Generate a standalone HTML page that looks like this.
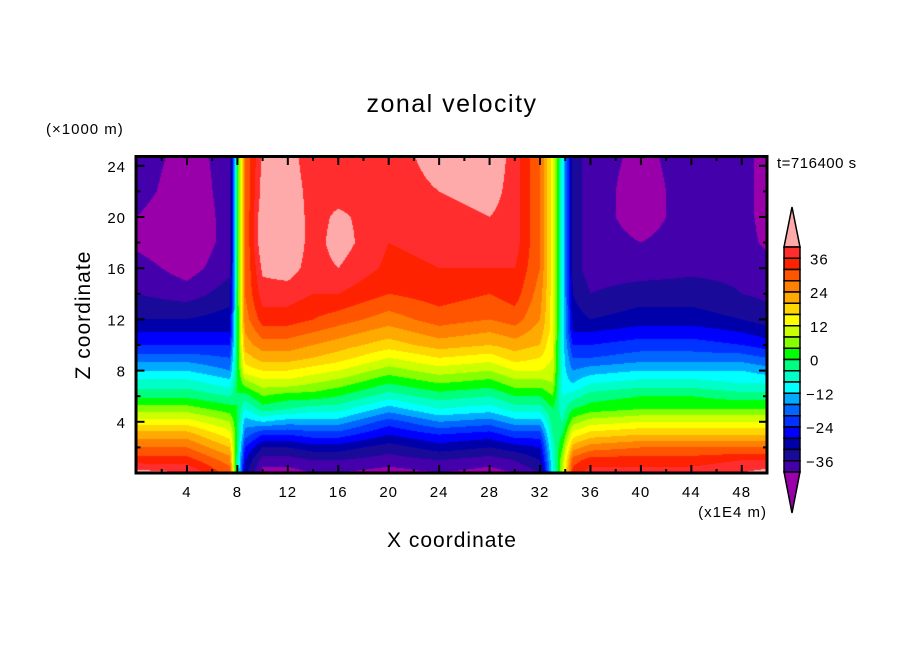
<!DOCTYPE html>
<html><head><meta charset="utf-8"><style>
html,body{margin:0;padding:0;background:#fff;width:904px;height:654px;overflow:hidden}
#wrap{position:relative;width:904px;height:654px}
canvas{position:absolute;left:136px;top:157px}
svg{position:absolute;left:0;top:0}
text{font-family:"Liberation Sans","DejaVu Sans",sans-serif;fill:#000}
</style></head><body>
<div id="wrap">
<canvas id="field" width="631" height="316"></canvas>
<svg id="ov" width="904" height="654">
<text x="452" y="112" font-size="25" text-anchor="middle" letter-spacing="1.5">zonal velocity</text>
<text x="46" y="134" font-size="15" letter-spacing="1">(×1000 m)</text>
<text x="777" y="168" font-size="15" letter-spacing="0.5">t=716400 s</text>
<text x="452" y="547" font-size="21" text-anchor="middle" letter-spacing="1">X coordinate</text>
<text x="0" y="0" font-size="21" text-anchor="middle" letter-spacing="1" transform="translate(90,315) rotate(-90)">Z coordinate</text>
<text x="767" y="517" font-size="15" text-anchor="end" letter-spacing="1">(x1E4 m)</text>
<g id="axes"></g>
<g id="cbar"></g>
</svg>
</div>
<script>
// grid data: x positions (x1E4 m), z levels (km), and profile columns (m/s)
const xCols = [0, 4, 7.4, 8.0, 8.6, 10, 12, 14, 16, 20, 24, 28, 30, 32, 33.0, 33.8, 34.6, 36, 40, 44, 48, 50];
const zRows = [0, 1, 2, 3, 4, 5, 6, 7, 8, 9, 10, 11, 12, 14, 16, 18, 20, 22, 25];
const col00 = [42, 34, 28, 22, 14, 6, -1, -6, -12, -18, -24, -28, -32, -36, -38, -41, -40, -38, -37];
const col04 = [40, 34, 28, 22, 14, 6, -1, -6, -12, -18, -24, -28, -32, -38, -42, -44, -44, -43, -42];
const col07 = [30, 26, 20, 14, 8, 2, -4, -10, -16, -20, -24, -28, -30, -34, -37, -38, -38, -38, -38];
const col08 = [-6, -4, -2, 0, 0, 0, 0, 0, 0, 0, 0, 0, 0, 0, 0, 0, 0, 0, 0];
const col09 = [-30, -28, -24, -18, -14, -8, -2, 6, 14, 18, 22, 24, 26, 28, 28, 28, 28, 28, 28];
const col10 = [-42, -38, -32, -24, -12, -2, 4, 10, 16, 22, 26, 30, 34, 38, 41, 44, 44, 42, 41];
const col12 = [-42, -38, -32, -24, -14, -4, 2, 10, 16, 22, 26, 30, 34, 38, 42, 44, 44, 43, 42];
const col14 = [-40, -36, -30, -22, -14, -6, 2, 8, 14, 20, 24, 28, 32, 36, 38, 38, 38, 38, 37];
const col16 = [-40, -36, -30, -22, -14, -6, 0, 6, 12, 18, 22, 26, 30, 36, 40, 42, 41, 38, 38];
const col20 = [-42, -38, -34, -28, -22, -14, -6, 0, 6, 12, 18, 22, 26, 32, 35, 36, 37, 38, 38];
const col24 = [-40, -36, -30, -24, -16, -8, -2, 4, 10, 16, 22, 26, 30, 34, 36, 37, 38, 40, 42];
const col28 = [-42, -38, -32, -26, -18, -10, -4, 2, 8, 14, 20, 24, 28, 32, 36, 38, 40, 42, 44];
const col30 = [-40, -36, -30, -22, -14, -6, 0, 6, 12, 18, 22, 26, 30, 34, 36, 38, 38, 38, 38];
const col32 = [-36, -32, -28, -22, -14, -6, 0, 6, 12, 16, 20, 22, 24, 26, 28, 28, 28, 28, 28];
const col33 = [-10, -8, -6, -4, -2, 0, 4, 8, 10, 12, 12, 14, 14, 14, 14, 14, 14, 14, 14];
const col34 = [10, 8, 4, 0, -4, -6, -8, -10, -10, -10, -10, -10, -10, -10, -10, -10, -10, -10, -10];
const col35 = [34, 30, 22, 14, 6, 0, -6, -12, -16, -20, -24, -28, -30, -32, -34, -34, -34, -34, -34];
const col36 = [38, 34, 26, 18, 10, 2, -2, -8, -14, -20, -24, -28, -32, -36, -38, -38, -38, -38, -38];
const col40 = [38, 34, 28, 20, 12, 4, 0, -6, -12, -18, -22, -26, -30, -34, -38, -40, -42, -42, -41];
const col44 = [38, 34, 28, 20, 12, 4, 0, -6, -12, -18, -22, -26, -30, -34, -37, -38, -38, -38, -38];
const col48 = [40, 36, 28, 20, 12, 4, -2, -8, -12, -18, -24, -28, -32, -36, -37, -38, -38, -38, -38];
const col50 = [42, 36, 28, 20, 12, 4, -2, -8, -14, -20, -26, -30, -34, -37, -38, -41, -42, -42, -42];
const columns = [col00,col04,col07,col08,col09,col10,col12,col14,col16,col20,col24,col28,col30,col32,col33,col34,col35,col36,col40,col44,col48,col50];
const levelColors = ['#ff2d2d','#ff2200','#ff5500','#ff7f00','#ffaa00','#ffd700','#ffff00','#ccff00','#88ff00','#00ff00','#00ff80','#00ffc8','#00ffff','#00aaff','#0066ff','#0033ff','#0000ff','#0000aa','#1a0a99','#4400aa'];
const overColor = '#ffaaaa';
const underColor = '#9900aa';
const cbarLabels = [36, 24, 12, 0, -12, -24, -36];
const xTickLabels = [4, 8, 12, 16, 20, 24, 28, 32, 36, 40, 44, 48];
const zTickLabels = [4, 8, 12, 16, 20, 24];

const PX0=136.5, PX1=767, PY0=473, PY1=157, XMAX=50, ZPX=12.8, ZMAX=(PY0-PY1)/ZPX;
const sx = x => PX0 + x*(PX1-PX0)/XMAX;
const sy = z => PY0 - z*ZPX;
const LMAX=40, LSTEP=4;
function colorFor(v){
  if(v>=LMAX) return overColor;
  const k=Math.floor((LMAX-v)/LSTEP);
  if(k>=levelColors.length) return underColor;
  return levelColors[k];
}
function seg(arr,v){let i=0;while(i<arr.length-2&&v>arr[i+1])i++;return [i,(v-arr[i])/(arr[i+1]-arr[i])];}
function val(x,z){
  const [i,tx]=seg(xCols,x),[j,tz]=seg(zRows,z);
  const a=columns[i],b=columns[i+1];
  const va=a[j]+(a[j+1]-a[j])*tz, vb=b[j]+(b[j+1]-b[j])*tz;
  return va+(vb-va)*tx;
}
const cv=document.getElementById('field'),ctx=cv.getContext('2d');
const W=cv.width,H=cv.height;
for(let py=0;py<H;py++){
  const z=(PY0-(PY1+py+0.5))/ZPX;
  for(let px=0;px<W;px++){
    const x=(136+px+0.5-PX0)*XMAX/(PX1-PX0);
    ctx.fillStyle=colorFor(val(Math.max(0,Math.min(50,x)),Math.max(0,z)));
    ctx.fillRect(px,py,1,1);
  }
}
const NS='http://www.w3.org/2000/svg';
function mk(tag,attrs,parent){const e=document.createElementNS(NS,tag);for(const k in attrs)e.setAttribute(k,attrs[k]);parent.appendChild(e);return e;}
const ax=document.getElementById('axes');
const frame=mk('rect',{x:136,y:156.5,width:631,height:316.5,fill:'none',stroke:'#000','stroke-width':3},ax);


for(let x=2;x<50;x+=2){
  const major=x%4===0,len=major?8:4,X=sx(x);
  const t1=mk('line',{x1:X,x2:X,y1:PY0,y2:PY0-len,stroke:'#000','stroke-width':2},ax);
  
  
  const t2=mk('line',{x1:X,x2:X,y1:PY1,y2:PY1+len,stroke:'#000','stroke-width':2},ax);
  
  
}
for(let z=2;z<ZMAX;z+=2){
  const major=z%4===0,len=major?8:4,Y=sy(z);
  const t1=mk('line',{x1:PX0,x2:PX0+len,y1:Y,y2:Y,stroke:'#000','stroke-width':2},ax);
  
  
  const t2=mk('line',{x1:PX1,x2:PX1-len,y1:Y,y2:Y,stroke:'#000','stroke-width':2},ax);
  
  
}
xTickLabels.forEach(v=>{
  const t=mk('text',{x:sx(v),y:497,'font-size':15,'text-anchor':'middle','letter-spacing':1},ax);
  t.textContent=v;
  
  
});
zTickLabels.forEach(v=>{
  const t=mk('text',{x:126,y:sy(v)+6,'font-size':15,'text-anchor':'end','letter-spacing':1},ax);
  t.textContent=v;
  
  
});
const cb=document.getElementById('cbar');
const CX0=784,CX1=800,CY0=247,BH=11.25;
const up=mk('polygon',{points:`${CX0},${CY0} ${CX1},${CY0} ${(CX0+CX1)/2},207`,fill:overColor,stroke:'#000','stroke-width':1.5},cb);


levelColors.forEach((c,k)=>{
  const r=mk('rect',{x:CX0,y:CY0+k*BH,width:CX1-CX0,height:BH,fill:c,stroke:'#000','stroke-width':1.5},cb);
  
  
});
const yb=CY0+levelColors.length*BH;
const dn=mk('polygon',{points:`${CX0},${yb} ${CX1},${yb} ${(CX0+CX1)/2},${yb+41}`,fill:underColor,stroke:'#000','stroke-width':1.5},cb);


cbarLabels.forEach(v=>{
  const y=CY0+(LMAX-v)/LSTEP*BH;
  const t=mk('text',{x:v<0?806:810,y:y+6,'font-size':15,'letter-spacing':1},cb);
  t.textContent=v<0?'\u2212'+(-v):String(v);
  
  
});
</script>
</body></html>
